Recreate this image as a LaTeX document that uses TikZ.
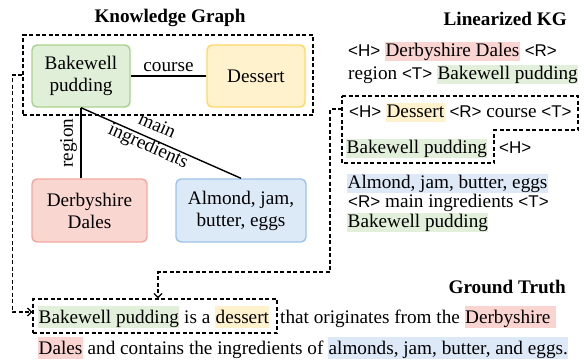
\documentclass[tikz,border=0pt]{standalone}
\usepackage{fontspec}
\setmainfont{Liberation Serif}
\newfontfamily\tagfont{Liberation Sans}
\usetikzlibrary{arrows.meta}

% palette
\definecolor{gfill}{HTML}{E0EFD8}
\definecolor{gline}{HTML}{A9D18E}
\definecolor{yfill}{HTML}{FFF2CC}
\definecolor{yline}{HTML}{FFD966}
\definecolor{rfill}{HTML}{FAD6D1}
\definecolor{rline}{HTML}{F2A8A0}
\definecolor{bfill}{HTML}{DCE9F7}
\definecolor{bline}{HTML}{9DC3E6}
\definecolor{ghl}{HTML}{E2EFDA}
\definecolor{yhl}{HTML}{FFF2CC}
\definecolor{rhl}{HTML}{FAD4D0}
\definecolor{bhl}{HTML}{DDE9F7}

\newcommand\bodyfs{\fontsize{19.2}{22}\selectfont}
\newcommand\tg[1]{{\tagfont\fontsize{17}{19}\selectfont<#1>}}
% highlighted words: short band for the linearized triples, taller band for the sentence
\newcommand\hlL[2]{{\setlength\fboxsep{0pt}\colorbox{#1}{\kern0.5pt\rule[-4.5pt]{0pt}{19pt}#2\kern0.5pt}}}
\newcommand\hlG[2]{{\setlength\fboxsep{0pt}\colorbox{#1}{\kern0.5pt\rule[-4.5pt]{0pt}{22pt}#2\kern0.5pt}}}

\tikzset{
  kgnode/.style={draw, rounded corners=5pt, line width=1.4pt, align=center,
    font=\bodyfs, inner sep=0pt},
  edge/.style={line width=1.4pt, black},
  dbox/.style={draw, line width=1.3pt, dash pattern=on 4pt off 2.5pt},
  conn/.style={line width=1.3pt, dash pattern=on 4pt off 2.5pt,
    -{Straight Barb[length=4pt, width=8pt, line width=1.3pt]}},
  txt/.style={anchor=base west, inner sep=0pt, font=\bodyfs},
  title/.style={inner sep=0pt, font=\bodyfs\bfseries},
}

\begin{document}
\begin{tikzpicture}[x=1pt, y=-1pt]
\useasboundingbox (0,0) rectangle (587,360);

% ---- knowledge graph ----
\node[title, anchor=base] (tkg) at (170,22) {Knowledge Graph};
\node[dbox, minimum width=290pt, minimum height=80pt] (kgbox) at (168,75) {};

\node[kgnode, fill=gfill, draw=gline, minimum width=98pt, minimum height=62pt] (bake) at (81,76) {Bakewell\\pudding};
\node[kgnode, fill=yfill, draw=yline, minimum width=98pt, minimum height=62pt] (dess) at (256,76) {Dessert};
\node[kgnode, fill=rfill, draw=rline, minimum width=115pt, minimum height=63pt] (derby) at (89.5,210.5) {Derbyshire\\Dales};
\node[kgnode, fill=bfill, draw=bline, minimum width=130pt, minimum height=63pt] (alm) at (241,210.5) {Almond, jam,\\butter, eggs};

\draw[edge] (bake) -- node[above, inner sep=4pt, font=\bodyfs] (lcourse) {course} (dess);
\draw[edge] (bake.south |- derby.north) -- node[midway, sloped, above, font=\bodyfs] (lregion) {region} (bake.south);
\draw[edge] (bake.south) -- node[pos=0.44, sloped, align=center, font=\bodyfs, inner sep=0pt, yshift=2pt] (lmain) {main\\ingredients} (alm.north);

% ---- linearized triples ----
\node[title, anchor=base east] (tlin) at (567,25) {Linearized KG};
\node[txt] (l1) at (348,56) {\tg{H} \hlL{rhl}{Derbyshire Dales} \tg{R}};
\node[txt] (l2) at (348,79) {region \tg{T} \hlL{ghl}{Bakewell pudding}};
\node[txt] (l3) at (349,117) {\tg{H} \hlL{yhl}{Dessert} \tg{R} course \tg{T}};
\node[txt] (l4) at (346,153) {\hlL{ghl}{Bakewell pudding}};
\node[txt] (l4b) at (499,153) {\tg{H}};
\node[txt] (l5) at (347,188) {\hlL{bhl}{Almond, jam, butter, eggs}};
\node[txt] (l6) at (348,207) {\tg{R} main ingredients \tg{T}};
\node[txt] (l7) at (347,227) {\hlL{ghl}{Bakewell pudding}};

\draw[dbox] (342,96) -- (578,96) -- (578,130) -- (494,130) -- (494,163) -- (342,163) -- cycle;
\coordinate (linL) at (342,109);

% ---- ground truth ----
\node[title, anchor=base east] (tgt) at (566,293) {Ground Truth};
\node[dbox, minimum width=244pt, minimum height=34pt] (gtbox) at (155,316) {};
\node[txt] (g1a) at (38,323) {\hlG{ghl}{Bakewell pudding} is a \hlG{yhl}{dessert}};
\node[txt] (g1b) at (280,323) {that originates from the \hlG{rhl}{Derbyshire\ }};
\node[txt] (g2) at (38,354) {\hlG{rhl}{Dales} and contains the ingredients of \hlG{bhl}{almonds, jam, butter, and eggs.}};

% ---- connectors ----
\draw[conn] (kgbox.west) -- ++(-10,0) |- ([yshift=4pt]gtbox.west);
\coordinate (turn) at (330,272);
\draw[conn] (linL) -| (turn) -| ([xshift=3pt]gtbox.north);
\end{tikzpicture}
\end{document}
